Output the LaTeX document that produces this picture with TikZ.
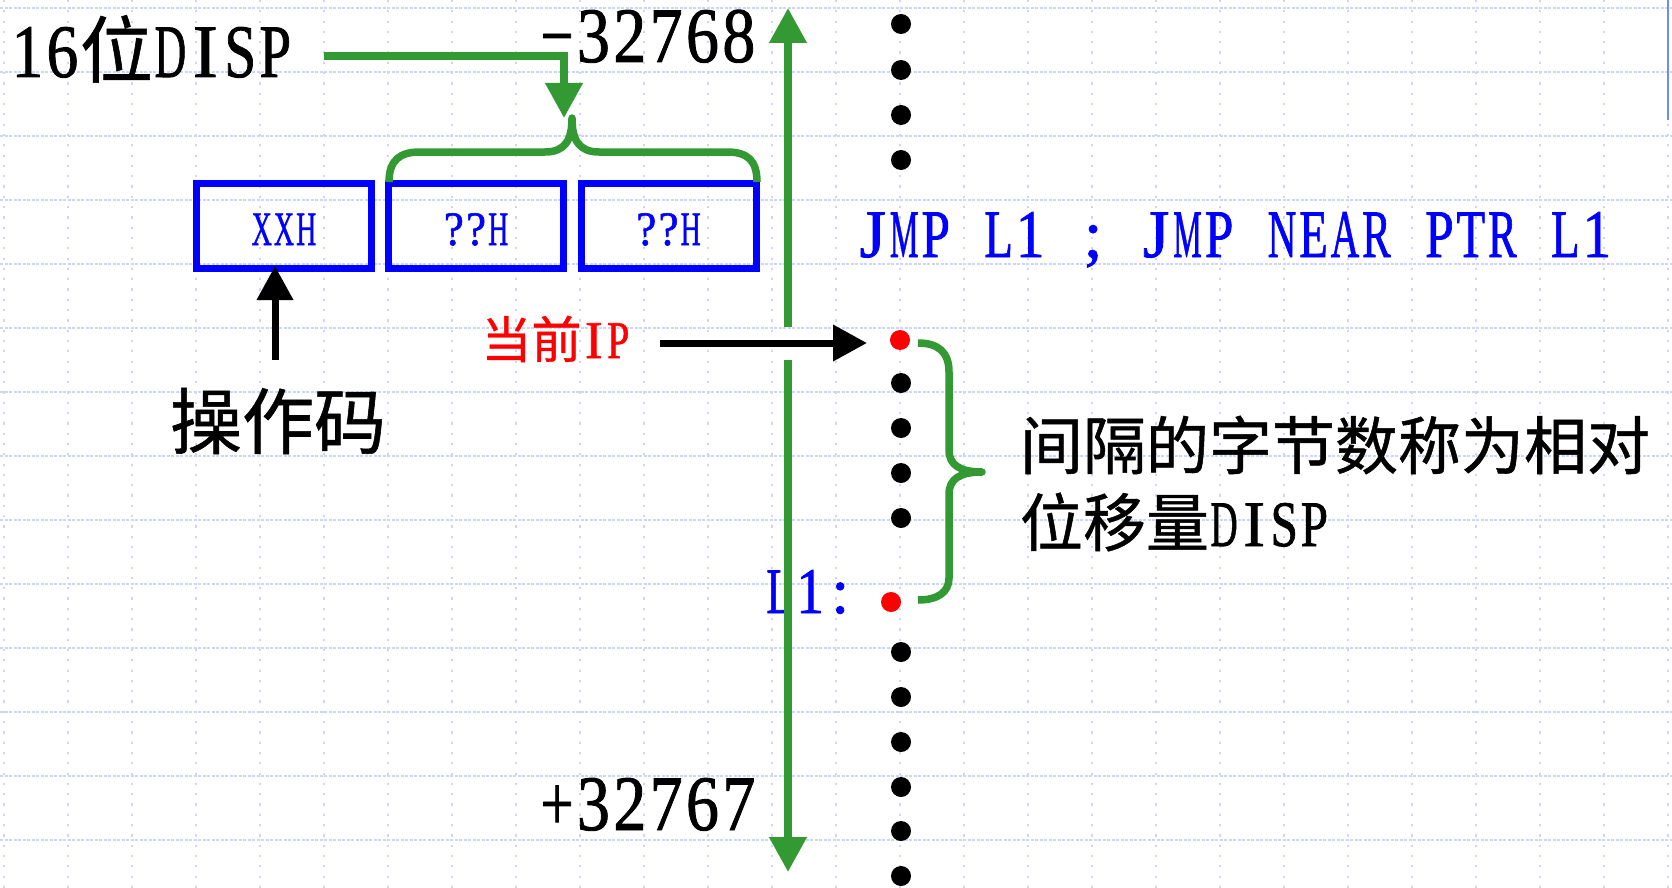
\documentclass[tikz,border=0pt]{standalone}
\usepackage{fontspec}
\usepackage{graphicx}
\setmainfont{Liberation Serif}[FakeBold=1.2]
\newfontfamily\cjk{Noto Sans CJK SC}[FakeBold=0.8]
\usetikzlibrary{arrows.meta}
\definecolor{gr}{RGB}{51,153,51}
\definecolor{gridc}{RGB}{203,214,250}
\definecolor{bl}{RGB}{0,0,255}
\definecolor{rd}{RGB}{255,0,0}
\definecolor{edgeb}{RGB}{110,140,255}
% fixed-pitch (half-width) Latin cells
\newsavebox\fwbox
\newcommand\fwc[1]{\sbox\fwbox{#1}\makebox[0.463em][c]{\ifdim\wd\fwbox>0.42em\resizebox{0.42em}{\height}{\usebox\fwbox}\else\usebox\fwbox\fi}}
\def\fwstop{\fwstop}
\newcommand\fw[1]{\fwloop#1\fwstop}
\def\fwloop#1{\ifx\fwstop#1\else\fwc{#1}\expandafter\fwloop\fi}
\begin{document}
\begin{tikzpicture}[x=1pt,y=-1pt,
  hgrid/.style={draw=gridc, line width=2pt, dash pattern=on 3pt off 1.5pt},
  vgrid/.style={draw=gridc, line width=1.5pt, dash pattern=on 2.2pt off 8.1pt},
  grn/.style={draw=gr, line width=7.5pt},
  garrow/.style={grn, -{Triangle[length=35pt,width=36pt]}},
  barrow/.style={draw=black, line width=7pt, -{Triangle[length=34pt,width=35pt]}},
  membox/.style={draw=bl, line width=7pt, minimum width=175pt, minimum height=85pt, inner sep=0pt,
     text=bl, font=\fontsize{48}{50}\selectfont, text height=38pt, text depth=0pt},
  txt/.style={inner sep=0pt, outer sep=0pt},
  dotb/.style={circle, fill=black, minimum size=20pt, inner sep=0pt},
  dotr/.style={circle, fill=rd, minimum size=20pt, inner sep=0pt}]
\fill[white] (0,0) rectangle (1672,888);
\useasboundingbox (0,0) rectangle (1672,888);
% background grid
\foreach \k in {0,...,13} \draw[hgrid] (0,{8+64*\k}) -- (1672,{8+64*\k});
\foreach \k in {0,...,26} \draw[vgrid] ({4+64*\k},0) -- ({4+64*\k},888);
\coordinate (eA) at (1668,0); \coordinate (eB) at (1668,120);
\draw[edgeb, line width=2.2pt] (eA) -- (eB);

% texts
\node[txt, anchor=base west, font=\fontsize{75.5}{80}\selectfont] (disp) at (10,77) {\fw{16}{\cjk\fontsize{73}{80}\selectfont 位}\fw{DISP}};
\node[txt, anchor=base east, font=\fontsize{78.5}{80}\selectfont] (mn) at (757,62) {\fw{−32768}};
\node[txt, anchor=base east, font=\fontsize{78.5}{80}\selectfont] (mx) at (757,830) {\fw{+32767}};
\node[membox] (b1) at (284,226) {\fw{XXH}};
\node[membox] (b2) at (476,226) {\fw{??H}};
\node[membox] (b3) at (668.5,226) {\fw{??H}};
\node[txt, anchor=center, font=\cjk\fontsize{72}{80}\selectfont] (op) at (278,421) {操作码};
\node[txt, anchor=base, text=rd, font=\fontsize{53}{60}\selectfont] (cur) at (556,358) {{\cjk\fontsize{50}{60}\selectfont 当前}\fw{IP}};
\node[txt, anchor=base west, text=bl, font=\fontsize{68}{70}\selectfont] (jmp) at (857,257) {\fw{JMP~L1~;~JMP~NEAR~PTR~L1}};
\node[txt, anchor=base west, text=bl, font=\fontsize{65}{70}\selectfont] (lab) at (765,613) {\fw{L1:}};
\node[txt, anchor=west, font=\cjk\fontsize{63}{70}\selectfont] (d1) at (1020,445) {间隔的字节数称为相对};
\node[txt, anchor=west, font=\fontsize{65}{70}\selectfont] (d2) at (1020,522) {{\cjk\fontsize{63}{70}\selectfont 位移量}\fw{DISP}};

% dots
\foreach \y [count=\i] in {24,70,115,160} \node[dotb] (t\i) at (901,\y) {};
\node[dotr] (ip) at (900,340) {};
\foreach \y [count=\i] in {383,428,473,518} \node[dotb] (m\i) at (901,\y) {};
\node[dotr] (lone) at (891,602) {};
\foreach \y [count=\i] in {652,697,742,787,831,876} \node[dotb] (u\i) at (901,\y) {};

% green arrow 16-bit DISP -> brace
\coordinate (gA) at (324,56); \coordinate (gB) at (564,118);
\draw[garrow, line join=miter] (gA) -| (gB);
% brace over the two displacement bytes
\draw[grn, line join=round] (389,182) .. controls (389,160) and (400,152) .. (420,152) -- (545,152)
  .. controls (565,152) and (572,140) .. (572,118)
  .. controls (572,140) and (579,152) .. (599,152) -- (727,152)
  .. controls (747,152) and (757,160) .. (757,182);
% green range axis
\coordinate (vT) at (788,8); \coordinate (vT2) at (788,327);
\coordinate (vB2) at (788,360); \coordinate (vB) at (788,872);
\draw[garrow] (vT2) -- (vT);
\draw[garrow] (vB2) -- (vB);
% black arrows
\coordinate (opA) at (275,360); \coordinate (opB) at (275,266);
\draw[barrow] (opA) -- (opB);
\coordinate (ipA) at (660,343); \coordinate (ipB) at (867,343);
\draw[barrow] (ipA) -- (ipB);
% right brace
\draw[grn, line join=round] (918,343) .. controls (938,343) and (949,352) .. (949,372) -- (949,450)
  .. controls (949,465) and (960,472) .. (982,472)
  .. controls (960,472) and (949,479) .. (949,494) -- (949,578)
  .. controls (949,592) and (938,600) .. (918,600);
\end{tikzpicture}
\end{document}
